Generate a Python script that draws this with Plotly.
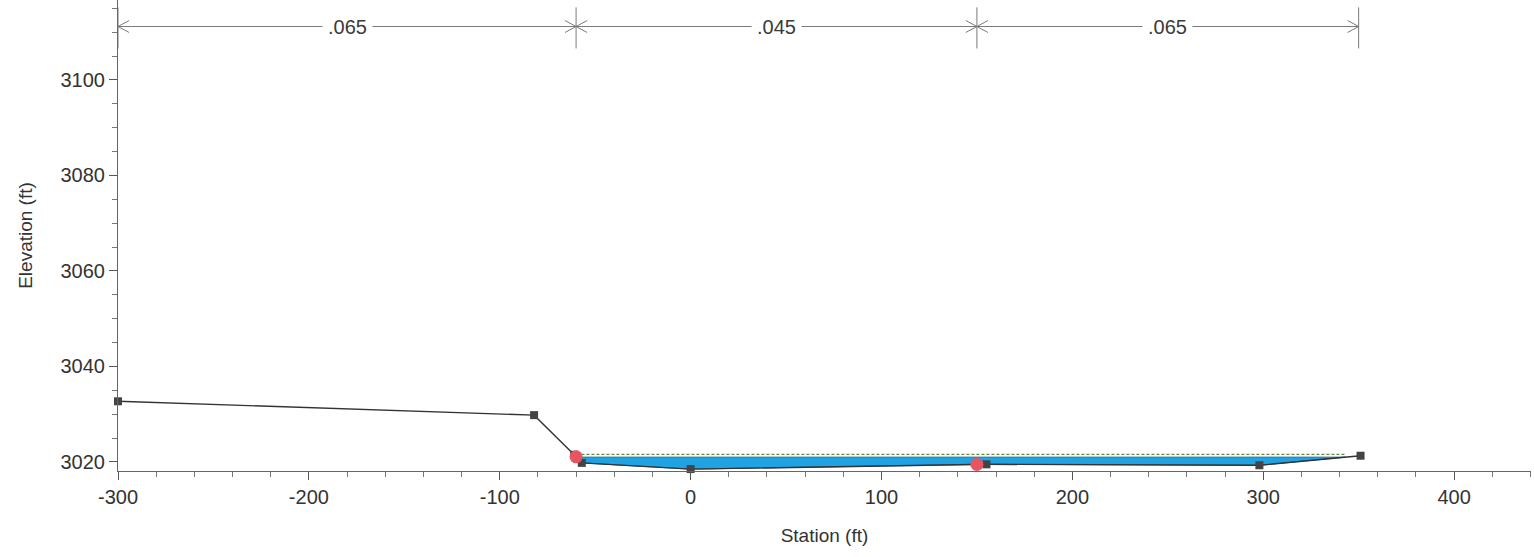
import numpy as np
import plotly.graph_objects as go

# ---------------- data ----------------
station = [-300, -82, -61, -57, 0, 155, 298, 351]
elevation = [3032.7, 3029.8, 3021.5, 3019.8, 3018.5, 3019.5, 3019.3, 3021.3]
bank_stations = [-60, 150]
ws_elev = 3021.0          # water surface
eg_elev = 3021.6          # energy grade
n_breaks = [-300, -60, 150, 350]
n_values = [".065", ".045", ".065"]
dim_elev = 3111.2
xticks = [-300, -200, -100, 0, 100, 200, 300, 400]
xtick_text = ["-300", "-200", "-100", "0", "100", "200", "300", "400"]
yticks = [3020, 3040, 3060, 3080, 3100]

FONT = "Arial, Liberation Sans, sans-serif"

fig = go.Figure()

# ------------- water fill (between ground and WS) -------------
st = np.array(station, float)
el = np.array(elevation, float)
poly_x, poly_y = [], []
for i in range(len(st) - 1):
    x0, x1, y0, y1 = st[i], st[i + 1], el[i], el[i + 1]
    if (y0 - ws_elev) * (y1 - ws_elev) < 0:
        xi = x0 + (ws_elev - y0) * (x1 - x0) / (y1 - y0)
        poly_x.append(xi)
        poly_y.append(ws_elev)
    if el[i + 1] < ws_elev:
        poly_x.append(st[i + 1])
        poly_y.append(el[i + 1])
left_edge, right_edge = poly_x[0], poly_x[-1]
poly_x = poly_x + [right_edge, left_edge]
poly_y = poly_y + [ws_elev, ws_elev]
fig.add_trace(go.Scatter(x=poly_x, y=poly_y, mode="lines", fill="toself",
                         fillcolor="#1fa3e3", line=dict(color="#1b6f9c", width=1),
                         hoverinfo="skip", showlegend=False))

# EG dashed line across wetted width
fig.add_trace(go.Scatter(x=[left_edge, right_edge], y=[eg_elev, eg_elev], mode="lines",
                         line=dict(color="#6a8a3a", width=1.2, dash="3px,2px"),
                         showlegend=False, hoverinfo="skip"))

# ground
fig.add_trace(go.Scatter(x=station, y=elevation, mode="lines+markers", cliponaxis=False,
                         line=dict(color="#333333", width=1.4),
                         marker=dict(symbol="square", size=8, color="#444444"),
                         showlegend=False))

# bank stations
bank_el = np.interp(bank_stations, st, el)
fig.add_trace(go.Scatter(x=bank_stations, y=bank_el, mode="markers", cliponaxis=False,
                         marker=dict(symbol="circle", size=13, color="#e8545f"),
                         showlegend=False))

# ------------- Manning's n dimension lines -------------
shapes = []
gray = "#7a7a7a"
fig.add_trace(go.Scatter(x=[n_breaks[0], n_breaks[-1]], y=[dim_elev, dim_elev], mode="lines",
                         line=dict(color=gray, width=1), showlegend=False, hoverinfo="skip"))
ax_dx, ax_dy = 5.8, 1.25
for i, b in enumerate(n_breaks):
    shapes.append(dict(type="line", xref="x", yref="y", x0=b, x1=b,
                       y0=dim_elev - 4.6, y1=dim_elev + 4.0,
                       line=dict(color=gray, width=1)))
    if i > 0:
        shapes.append(dict(type="path", xref="x", yref="y",
                           path=f"M{b - ax_dx},{dim_elev + ax_dy} L{b},{dim_elev} L{b - ax_dx},{dim_elev - ax_dy}",
                           line=dict(color=gray, width=1)))
    if i < len(n_breaks) - 1:
        shapes.append(dict(type="path", xref="x", yref="y",
                           path=f"M{b + ax_dx},{dim_elev + ax_dy} L{b},{dim_elev} L{b + ax_dx},{dim_elev - ax_dy}",
                           line=dict(color=gray, width=1)))
annotations = []
for i, v in enumerate(n_values):
    annotations.append(dict(x=(n_breaks[i] + n_breaks[i + 1]) / 2, y=dim_elev, xref="x", yref="y",
                            text=v, showarrow=False, bgcolor="white", borderpad=5,
                            font=dict(family=FONT, size=20, color="#3a3a3a")))

fig.update_layout(
    width=1534, height=557,
    margin=dict(l=118, r=3, t=0, b=86),
    paper_bgcolor="white", plot_bgcolor="white",
    shapes=shapes, annotations=annotations,
    font=dict(family=FONT, color="#333333"),
    xaxis=dict(range=[-300, 440.3], tickvals=xticks, ticktext=xtick_text,
               showgrid=False, zeroline=False,
               showline=True, linecolor="#666666", linewidth=1,
               ticks="outside", ticklen=8, tickcolor="#555555",
               minor=dict(dtick=20, tick0=0, ticks="outside", ticklen=5, tickcolor="#777777"),
               tickfont=dict(size=20, color="#333333"),
               title=dict(text="Station (ft)", font=dict(size=19, color="#333333"), standoff=21)),
    yaxis=dict(range=[3018.1, 3116.75], tickvals=yticks, showgrid=False, zeroline=False,
               showline=True, linecolor="#666666", linewidth=1,
               ticks="outside", ticklen=8, tickcolor="#555555",
               minor=dict(dtick=5, tick0=0, ticks="outside", ticklen=5, tickcolor="#777777"),
               tickfont=dict(size=20, color="#333333"),
               title=dict(text="Elevation (ft)", font=dict(size=19, color="#333333"), standoff=22)),
)

fig.write_html("out.html")
